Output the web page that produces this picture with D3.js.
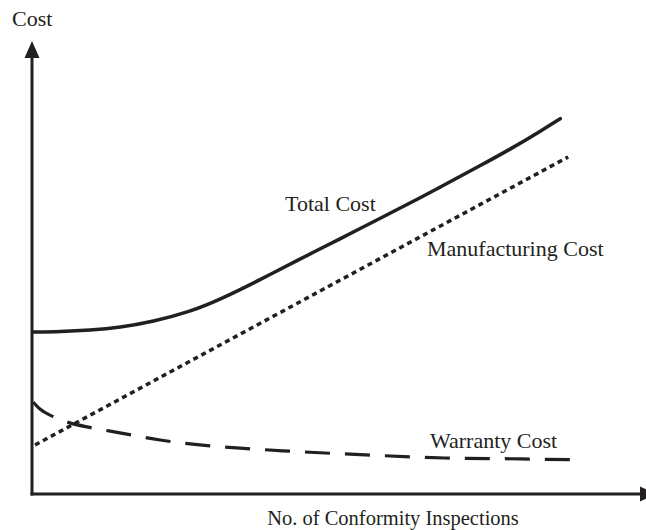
<!DOCTYPE html>
<html lang="en">

<head>
    <meta charset="UTF-8" />
    <title>Cost vs Conformity Inspections</title>
    <script src="https://d3js.org/d3.v7.min.js"></script>
    <style>
        body { margin: 0; background: #fff; }
        text { font-family: "Liberation Serif", "Times New Roman", serif; fill: #231f20; }
    </style>
</head>

<body>
    <div id="chart"></div>

    <script>
        var w = 646;
        var h = 530;
        var ink = "#231f20";

        // Series names and values (x = inspections, y = cost, arbitrary units 0-100)
        var seriesNames = ["Total Cost", "Manufacturing Cost", "Warranty Cost"];
        var yLabel = "Cost";
        var xLabel = "No. of Conformity Inspections";

        var totalX = [0.2, 4.6, 9.5, 14.4, 19.8, 25.9, 30.8, 37.4, 43.9, 50.5, 57.0, 63.6, 68.0, 73.4, 78.9, 83.3, 86.6];
        var totalY = [36.0, 36.1, 36.4, 37.0, 38.3, 40.5, 43.2, 47.6, 52.2, 56.7, 61.2, 65.8, 69.0, 72.9, 77.0, 80.6, 83.4];

        var manufX = [0.5, 87.9];
        var manufY = [10.9, 74.9];

        var warrantyX = [0.2, 1.3, 3.3, 6.2, 9.8, 14.4, 21.0, 27.5, 34.1, 41.1, 54.6, 67.7, 80.0, 89.0];
        var warrantyY = [20.4, 18.9, 17.3, 15.8, 14.7, 13.6, 12.0, 10.9, 10.2, 9.6, 8.7, 8.0, 7.8, 7.6];

        function zip(xs, ys) {
            return xs.map(function (x, i) { return { x: x, y: ys[i] }; });
        }

        var svg = d3.select("#chart")
            .append("svg")
            .attr("width", w)
            .attr("height", h);

        var xScale = d3.scaleLinear().domain([0, 100]).range([32, 642]);
        var yScale = d3.scaleLinear().domain([0, 100]).range([494, 44]);

        var line = d3.line()
            .x(function (d) { return xScale(d.x); })
            .y(function (d) { return yScale(d.y); })
            .curve(d3.curveMonotoneX);

        var smoothLine = d3.line()
            .x(function (d) { return xScale(d.x); })
            .y(function (d) { return yScale(d.y); })
            .curve(d3.curveBasis);

        // axes: plain lines with arrow heads, no ticks
        var x0 = xScale(0), y0 = yScale(0);
        svg.append("line")
            .attr("x1", x0).attr("y1", y0 + 1.5)
            .attr("x2", x0).attr("y2", 56)
            .attr("stroke", ink).attr("stroke-width", 3);
        svg.append("path")
            .attr("d", "M" + x0 + ",41 L" + (x0 - 7.5) + ",58 L" + (x0 + 7.5) + ",58 Z")
            .attr("fill", ink);

        svg.append("line")
            .attr("x1", x0 - 1.5).attr("y1", y0)
            .attr("x2", 642).attr("y2", y0)
            .attr("stroke", ink).attr("stroke-width", 3);
        svg.append("path")
            .attr("d", "M656," + y0 + " L640," + (y0 - 7.5) + " L640," + (y0 + 7.5) + " Z")
            .attr("fill", ink);

        // curves
        svg.append("path")
            .datum(zip(manufX, manufY))
            .attr("fill", "none")
            .attr("stroke", ink)
            .attr("stroke-width", 3.5)
            .attr("stroke-dasharray", "5,4")
            .attr("d", line);

        svg.append("path")
            .datum(zip(warrantyX, warrantyY))
            .attr("fill", "none")
            .attr("stroke", ink)
            .attr("stroke-width", 3.2)
            .attr("stroke-dasharray", "25,15")
            .attr("d", line);

        svg.append("path")
            .datum(zip(totalX, totalY))
            .attr("fill", "none")
            .attr("stroke", ink)
            .attr("stroke-width", 3.5)
            .attr("stroke-linecap", "round")
            .attr("d", smoothLine);

        // labels
        svg.append("text").attr("x", 12).attr("y", 26)
            .style("font-size", "22px").text(yLabel);

        svg.append("text").attr("x", 393).attr("y", 525)
            .attr("text-anchor", "middle")
            .style("font-size", "20.5px").text(xLabel);

        svg.append("text").attr("x", 285).attr("y", 211)
            .style("font-size", "22px").text(seriesNames[0]);
        svg.append("text").attr("x", 427).attr("y", 256)
            .style("font-size", "22px").text(seriesNames[1]);
        svg.append("text").attr("x", 430).attr("y", 448)
            .style("font-size", "22px").text(seriesNames[2]);
    </script>
</body>

</html>
